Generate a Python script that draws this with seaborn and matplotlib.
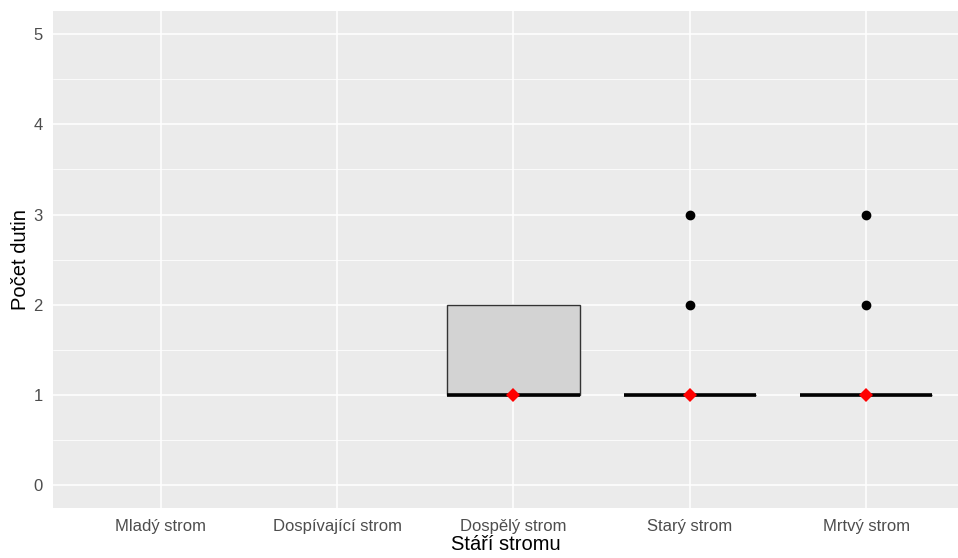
import matplotlib
matplotlib.use("Agg")
import matplotlib.pyplot as plt
import numpy as np
import pandas as pd
import seaborn as sns
from matplotlib.ticker import MultipleLocator, FixedLocator

# ---- data ----
categories = ["Mladý strom", "Dospívající strom", "Dospělý strom", "Starý strom", "Mrtvý strom"]
dospely_values = [1, 1, 1, 2, 2]
stary_values = [1, 1, 1, 1, 1, 1, 1, 1, 1, 1, 2, 3]
mrtvy_values = [1, 1, 1, 1, 1, 1, 1, 1, 1, 1, 2, 3]
y_ticks = [0, 1, 2, 3, 4, 5]
x_title = "Stáří stromu"
y_title = "Počet dutin"

df = pd.DataFrame({
    "stari": (["Dospělý strom"] * len(dospely_values)
              + ["Starý strom"] * len(stary_values)
              + ["Mrtvý strom"] * len(mrtvy_values)),
    "pocet": dospely_values + stary_values + mrtvy_values,
})

sns.set_theme(style="white")
plt.rcParams["font.family"] = ["Liberation Sans", "DejaVu Sans"]

W, H = 958, 558
fig = plt.figure(figsize=(W / 100, H / 100), dpi=100)
left, right, top, bottom = 53, 958, 11.4, 508
ax = fig.add_axes([left / W, (H - bottom) / H, (right - left) / W, (bottom - top) / H])
ax.set_facecolor("#EBEBEB")
for s in ax.spines.values():
    s.set_visible(False)

sns.boxplot(data=df, x="stari", y="pocet", order=categories, width=0.75,
            color="#D3D3D3", saturation=1, linecolor="#333333", linewidth=1.0,
            showcaps=False, whis=1.5,
            flierprops=dict(marker="o", markerfacecolor="black", markeredgecolor="black",
                            markersize=6),
            medianprops=dict(color="black", linewidth=2.6),
            ax=ax, zorder=3)

sns.pointplot(data=df, x="stari", y="pocet", order=categories, estimator="median",
              errorbar=None, linestyle="none", marker="D", color="red",
              markersize=7.5, markeredgewidth=0, ax=ax, zorder=6)

ax.set_xlim(-0.61, 4.52)
ax.set_ylim(-0.25, 5.25)
ax.yaxis.set_major_locator(FixedLocator(y_ticks))
ax.yaxis.set_minor_locator(MultipleLocator(0.5))
ax.grid(which="major", color="white", linewidth=1.1)
ax.grid(which="minor", axis="y", color="white", linewidth=0.55)
ax.set_axisbelow(True)
ax.tick_params(which="major", length=3.5, width=0.8, color="#333333",
               labelcolor="#4D4D4D", labelsize=12, pad=4)
ax.tick_params(axis="x", pad=4.5)
ax.tick_params(which="minor", length=0)
ax.set_xticks(range(len(categories)))
ax.set_xticklabels(categories)
ax.set_xlabel(x_title, fontsize=14.5, color="black", labelpad=1)
ax.set_ylabel(y_title, fontsize=14.5, color="black", labelpad=2)

fig.savefig("out.png", dpi=100)
